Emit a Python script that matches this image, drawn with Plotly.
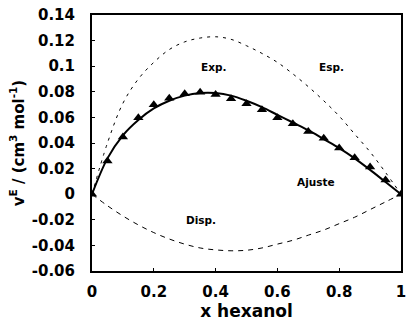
import plotly.graph_objects as go

x = [0, 0.05, 0.1, 0.15, 0.2, 0.25, 0.3, 0.35, 0.4, 0.45, 0.5, 0.55, 0.6, 0.65, 0.7, 0.75, 0.8, 0.85, 0.9, 0.95, 1.0]
vE_exp_points = [0, 0.026, 0.0446, 0.0597, 0.0698, 0.075, 0.0784, 0.0796, 0.0778, 0.0745, 0.0706, 0.0659,
                 0.0597, 0.055, 0.049, 0.0438, 0.036, 0.0285, 0.0213, 0.011, 0]
ajuste = [0, 0.028, 0.046, 0.058, 0.067, 0.073, 0.077, 0.079, 0.079, 0.077, 0.073, 0.068,
          0.062, 0.056, 0.050, 0.043, 0.036, 0.028, 0.019, 0.0095, 0]
exp_curve = [0, 0.040, 0.071, 0.090, 0.103, 0.113, 0.119, 0.122, 0.123, 0.121, 0.116, 0.110,
             0.103, 0.094, 0.084, 0.073, 0.061, 0.047, 0.033, 0.017, 0]
disp_curve = [0, -0.009, -0.017, -0.024, -0.030, -0.035, -0.039, -0.042, -0.0435, -0.0442, -0.0438, -0.042,
              -0.039, -0.036, -0.032, -0.028, -0.023, -0.018, -0.012, -0.006, 0]

labels = [("Exp.", 0.392, 0.099), ("Esp.", 0.774, 0.099), ("Ajuste", 0.726, 0.0093), ("Disp.", 0.353, -0.020)]

FONT = "DejaVu Sans, sans-serif"

fig = go.Figure()
fig.add_trace(go.Scatter(x=x, y=exp_curve, mode="lines", line=dict(color="black", width=1, dash="3px,5px", shape="spline")))
fig.add_trace(go.Scatter(x=x, y=disp_curve, mode="lines", line=dict(color="black", width=1, dash="5px,5px", shape="spline")))
fig.add_trace(go.Scatter(x=x, y=ajuste, mode="lines", line=dict(color="black", width=2, shape="spline")))
fig.add_trace(go.Scatter(x=x, y=vE_exp_points, mode="markers",
                         marker=dict(symbol="triangle-up", size=9, color="black")))

for t, lx, ly in labels:
    fig.add_annotation(x=lx, y=ly, text="<b>" + t + "</b>", showarrow=False,
                       font=dict(family=FONT, size=10.5, color="black"))

fig.update_layout(
    width=412, height=322,
    margin=dict(l=92, r=6, t=13, b=51),
    paper_bgcolor="white", plot_bgcolor="white",
    showlegend=False,
    font=dict(family=FONT, color="black"),
)
fig.update_xaxes(
    range=[0, 1], tickvals=[0, 0.2, 0.4, 0.6, 0.8, 1], ticktext=["0", "0.2", "0.4", "0.6", "0.8", "1"],
    showgrid=False, zeroline=False, showline=True, linecolor="black", linewidth=2, mirror=True,
    ticks="inside", ticklen=3, tickcolor="black", ticklabelstandoff=6,
    tickfont=dict(family=FONT, size=15, color="black", weight="bold"),
    title=dict(text="<b>x hexanol</b>", font=dict(family=FONT, size=17, color="black"), standoff=3),
)
fig.update_yaxes(
    range=[-0.06, 0.14], tickvals=[-0.06, -0.04, -0.02, 0, 0.02, 0.04, 0.06, 0.08, 0.1, 0.12, 0.14],
    ticktext=["-0.06", "-0.04", "-0.02", "0", "0.02", "0.04", "0.06", "0.08", "0.1", "0.12", "0.14"],
    showgrid=False, zeroline=False, showline=True, linecolor="black", linewidth=2, mirror=True,
    ticks="inside", ticklen=3, tickcolor="black", ticklabelstandoff=12,
    tickfont=dict(family=FONT, size=15, color="black", weight="bold"),
    title=dict(text="<b>v<sup>E</sup> / (cm<sup>3</sup> mol<sup>-1</sup>)</b>",
               font=dict(family=FONT, size=15, color="black"), standoff=4),
)

fig.write_html("out.html")
